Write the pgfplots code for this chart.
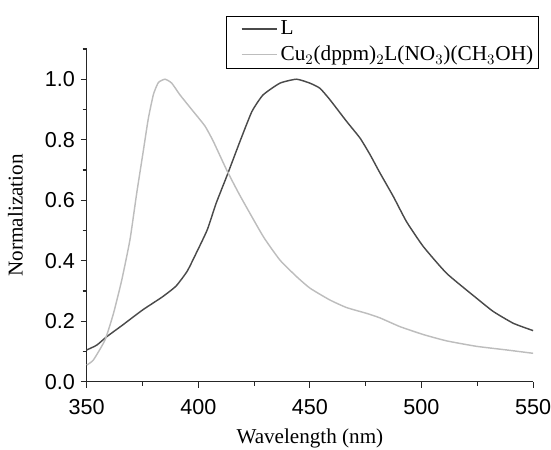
\documentclass[border=0pt]{standalone}
\usepackage{fontspec}
\setmainfont{Liberation Serif}
\newfontfamily\ticksans{Liberation Sans}
\usepackage{pgfplots}
\pgfplotsset{compat=1.18}
\definecolor{darkc}{HTML}{4A4A4A}
\definecolor{lightc}{HTML}{BDBDBD}
\begin{document}
\begin{tikzpicture}
\begin{axis}[
  at={(0,0)}, anchor=south west,
  scale only axis, width=279pt, height=208pt,
  xmin=350, xmax=550, ymin=0, ymax=1.1,
  axis lines=left, axis line style={-, line width=0.7pt, black!85},
  tick style={line width=0.7pt, black!85},
  tick align=outside, major tick length=3.8pt, minor tick length=2.5pt,
  xtick={350,400,450,500,550}, minor x tick num=1,
  ytick={0,0.2,0.4,0.6,0.8,1.0}, minor ytick={0.1,0.3,0.5,0.7,0.9,1.1},
  /pgf/number format/assume math mode=true,
  yticklabel style={/pgf/number format/.cd, fixed, fixed zerofill, precision=1},
  xticklabel style={yshift=-4pt, /pgf/number format/.cd, set thousands separator={}},
  ticklabel style={font=\ticksans\fontsize{13.5}{15}\selectfont},
  xlabel={Wavelength (nm)}, ylabel={Normalization},
  label style={font=\fontsize{13.2}{15}\selectfont},
  xlabel style={yshift=-1.5pt},
  ylabel style={yshift=7pt},
  legend style={at={(rel axis cs:1.012,1.1)}, anchor=north east, draw=black, line width=0.5pt,
    font=\fontsize{13.3}{14}\selectfont, inner sep=1pt, row sep=1.5pt, cells={anchor=west}},
  legend image code/.code={\path (-8pt,0); \draw[#1, line width=0.8pt] (0,0) -- (22pt,0);},
  clip=false,
]
\addplot[darkc, line width=0.9pt, smooth, tension=0.3] coordinates {
(350,0.105) (354.5,0.121) (359,0.149) (366,0.187) (375,0.237) (384,0.281) (390,0.316)
(395,0.365) (399,0.424) (404,0.502) (408,0.590) (413,0.684) (418.7,0.795) (424,0.893)
(429,0.948) (436.6,0.987) (444,1.0) (450,0.987) (454.5,0.970) (459,0.932) (466.5,0.860)
(472.5,0.805) (477,0.750) (481.4,0.690) (487.4,0.612) (493.3,0.529) (500.8,0.447)
(511.3,0.358) (524.7,0.276) (532.2,0.232) (541.2,0.193) (550,0.169)};
\addlegendentry{L}
\addplot[lightc, line width=0.9pt, smooth, tension=0.3] coordinates {
(350,0.055) (353,0.072) (358.2,0.138) (362,0.226) (365.7,0.336) (369.4,0.470) (372.4,0.623)
(375.4,0.765) (377.6,0.870) (379.9,0.950) (382.1,0.989) (385.1,1.0) (388.1,0.987)
(391.8,0.948) (397.8,0.893) (403,0.845) (406.7,0.795) (412.7,0.700) (418.7,0.615)
(429.1,0.480) (436.6,0.402) (444.1,0.347) (450.1,0.309) (459,0.270)
(466.5,0.245) (475.4,0.226) (481.4,0.211) (490.4,0.182) (500.8,0.156) (511.3,0.135)
(524.7,0.117) (538.2,0.105) (550,0.094)};
\addlegendentry{Cu$_2$(dppm)$_2$L(NO$_3$)(CH$_3$OH)}
\end{axis}
\pgfresetboundingbox
\path (-54.2pt,-42.1pt) rectangle (290.2pt,238.6pt);
\end{tikzpicture}
\end{document}
